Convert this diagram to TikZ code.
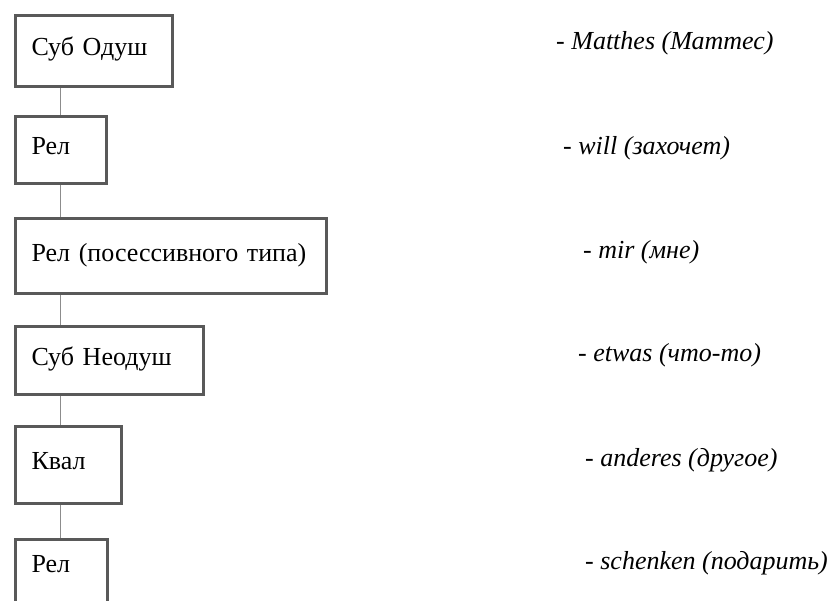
\documentclass[tikz,border=0pt]{standalone}
\usepackage{fontspec}
\setmainfont{Liberation Serif}
\definecolor{boxgrey}{HTML}{595959}
\definecolor{linegrey}{HTML}{8C8C8C}
\tikzset{
  box/.style={draw=boxgrey, line width=3pt, rectangle, anchor=north west,
    inner xsep=16pt, inner ysep=0pt, align=left, text height=18pt, text depth=8pt},
  conn/.style={draw=linegrey, line width=1.3pt},
  gloss/.style={anchor=west, inner sep=0pt, font=\fontsize{26}{31}\selectfont\itshape}
}
\begin{document}
\begin{tikzpicture}[x=1pt, y=-1pt, font=\fontsize{26}{31}\selectfont]
  % page
  \clip (0,0) rectangle (831,601);
  \fill[white] (0,0) rectangle (831,601);

  % chain of categories
  \node[box, text width=124.7pt, minimum height=71pt]   (subanim) at (14,14)    {Суб Одуш};
  \node[box, text width=59pt,    minimum height=67pt]   (rel)     at (14,115)   {Рел};
  \node[box, text width=279pt,   minimum height=74.5pt] (relposs) at (14,217.5) {Рел (посессивного типа)};
  \node[box, text width=156pt,   minimum height=68pt]   (subinan) at (14,325.5) {Суб Неодуш};
  \node[box, text width=74pt,    minimum height=77pt]   (qual)    at (14,425)   {Квал};
  % last box runs off the page
  \node[box, text width=60pt, minimum height=70pt, text depth=21pt] (relend) at (14,538) {Рел};

  % links
  \foreach \a/\b in {subanim/rel, rel/relposs, relposs/subinan, subinan/qual, qual/relend} {
    \draw[conn] ([xshift=46.3pt]\a.south west) -- ([xshift=46.3pt]\b.north west);
  }

  % glosses
  \node[gloss] (gsubanim) at (556,43)  {- Matthes (Маттес)};
  \node[gloss] (grel)     at (563,148) {- will (захочет)};
  \node[gloss] (grelposs) at (583,252) {- mir (мне)};
  \node[gloss] (gsubinan) at (578,355) {- etwas (что-то)};
  \node[gloss] (gqual)    at (585,460) {- anderes (другое)};
  \node[gloss] (grelend)  at (585,563) {- schenken (подарить)};
\end{tikzpicture}
\end{document}
